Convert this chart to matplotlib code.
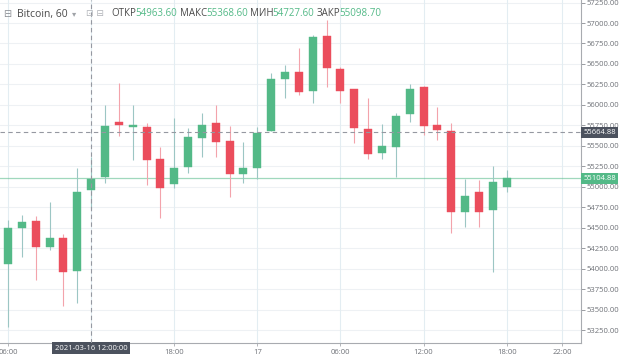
import numpy as np
import pandas as pd
import matplotlib
matplotlib.use("Agg")
import matplotlib.pyplot as plt
import matplotlib.dates as mdates

plt.rcParams["font.family"] = ["Open Sans", "DejaVu Sans"]

# hourly candles, BTC 60 min, from 2021-03-16 06:00
times = pd.date_range("2021-03-16 06:00", periods=37, freq="h")
open_ = [54057, 54497, 54582, 54265, 54375, 53972, 54963.6, 55120, 55791, 55730,
         55730, 55339, 55034, 55242, 55596, 55779, 55559, 55156, 55230, 55681,
         56316, 56402, 56170, 56841, 56438, 56194, 55706, 55413, 55486, 55889,
         56219, 55755, 55681, 54692, 54937, 54717, 54998]
high = [54595, 54656, 54644, 54814, 54424, 55230, 55368.6, 55999, 56267, 55999,
        55779, 55486, 55840, 55718, 55901, 55999, 55742, 55547, 55730, 56389,
        56487, 56695, 56853, 57037, 56463, 56194, 56084, 55767, 55901, 56255,
        56230, 55974, 55779, 55095, 55083, 55254, 55205]
low = [53288, 54143, 53862, 54228, 53545, 53581, 54727.6, 55046, 55620, 55327,
       55022, 54619, 54985, 55169, 55364, 55364, 54875, 55046, 55095, 55681,
       56084, 56121, 56023, 56219, 56023, 55535, 55339, 55339, 55120, 55791,
       55632, 55571, 54436, 54509, 54509, 53960, 54937]
close = [54497, 54570, 54265, 54375, 53960, 54937, 55098.7, 55742, 55755, 55755,
         55327, 54985, 55230, 55608, 55755, 55547, 55156, 55230, 55657, 56316,
         56402, 56157, 56829, 56451, 56170, 55718, 55400, 55498, 55864, 56194,
         55742, 55694, 54692, 54888, 54692, 55058, 55104.88]

tick_times = ["2021-03-16 06:00", "2021-03-16 12:00", "2021-03-16 18:00", "2021-03-17 00:00",
              "2021-03-17 06:00", "2021-03-17 12:00", "2021-03-17 18:00", "2021-03-17 22:00"]
tick_labels = ["06:00", "", "18:00", "17", "06:00", "12:00", "18:00", "22:00"]

cross_time = "2021-03-16 12:00"
cross_label = "2021-03-16 12:00:00"
cross_price = 55664.88
last_price = 55104.88

header = [("ОТКР", "54963.60"), ("МАКС", "55368.60"), ("МИН", "54727.60"), ("ЗАКР", "55098.70")]

GREEN = "#53b987"
RED = "#eb4d5c"

fig = plt.figure(figsize=(6.2, 3.57), dpi=100)
ax = fig.add_axes([0.0, 14 / 357, 581 / 620, 343 / 357])

x = mdates.date2num(times)
o = np.array(open_)
c = np.array(close)
up = c >= o
colors = np.where(up, GREEN, RED)
wick_colors = np.where(up, "#9cc6c4", "#f3a3ab")
hour = 1 / 24

ax.vlines(x, low, high, colors=wick_colors, lw=0.8, zorder=2)
body_h = np.maximum(np.abs(c - o), 18)
ax.bar(x, body_h, bottom=np.minimum(o, c), width=0.58 * hour, color=colors,
       edgecolor=colors, linewidth=0.3, zorder=3)

# limits
x0 = x[0]
ax.set_xlim(x0 - 0.58 * hour, x0 + 41.37 * hour)
ax.set_ylim(53093, 57281)

# grid
yt = np.arange(53250, 57251, 250)
for v in yt:
    ax.axhline(v, color="#eef1f4", lw=0.8, zorder=0)
tx = mdates.date2num(pd.to_datetime(tick_times))
for v in tx:
    ax.axvline(v, color="#e3edf2", lw=0.8, zorder=0)

# last price line and crosshair
ax.axhline(last_price, color=GREEN, lw=0.9, alpha=0.55, zorder=1)
cx = mdates.date2num(pd.Timestamp(cross_time))
ax.axvline(cx, color="#9598a1", lw=0.8, ls=(0, (4, 3)), zorder=4)
ax.axhline(cross_price, color="#9598a1", lw=0.8, ls=(0, (4, 3)), zorder=4)

# axes styling
for s in ["top", "left"]:
    ax.spines[s].set_visible(False)
ax.spines["right"].set_color("#a8abb0")
ax.spines["bottom"].set_color("#a8abb0")
ax.yaxis.tick_right()
ax.set_yticks(yt)
ax.set_yticklabels([f"{v:.2f}" for v in yt])
ax.tick_params(axis="y", labelsize=5.5, colors="#8a8d93", length=3, width=0.6, pad=1)
ax.tick_params(axis="y", labelcolor="#6f7278")
ax.set_xticks(tx)
ax.set_xticklabels(tick_labels)
ax.tick_params(axis="x", labelsize=5.5, labelcolor="#6f7278", colors="#a8abb0",
               length=2, width=0.6, pad=2)

# price boxes on right scale
ax.annotate(f"{cross_price:.2f}", xy=(1.004, cross_price), xycoords=("axes fraction", "data"),
            ha="left", va="center", fontsize=5.5, color="white", annotation_clip=False,
            bbox=dict(boxstyle="square,pad=0.25", fc="#4c525e", ec="none"))
ax.annotate(f"{last_price:.2f}", xy=(1.004, last_price), xycoords=("axes fraction", "data"),
            ha="left", va="center", fontsize=5.5, color="white", annotation_clip=False,
            bbox=dict(boxstyle="square,pad=0.25", fc=GREEN, ec="none"))
ax.annotate(cross_label, xy=(cx, -0.005), xycoords=("data", "axes fraction"),
            ha="center", va="top", fontsize=5.5, color="white", annotation_clip=False,
            bbox=dict(boxstyle="square,pad=0.35", fc="#4c525e", ec="none"))

# header legend
fig.text(3 / 620, 1 - 14 / 357, "⊟", fontsize=7, color="#8a8d93", va="center",
         family=["DejaVu Sans"])
fig.text(17 / 620, 1 - 14 / 357, "Bitcoin, 60", fontsize=7.5, color="#4a4a4a", va="center")
fig.text(72 / 620, 1 - 14 / 357, "▾", fontsize=6, color="#a0a3a8", va="center",
         family=["DejaVu Sans"])
fig.text(86 / 620, 1 - 14 / 357, "⊡ ⊟", fontsize=6.5, color="#b0b3b8", va="center",
         family=["DejaVu Sans"])
label_x = [111, 180, 250, 317]
value_x = [135, 206, 272, 339]
for (lab, val), lx, vx in zip(header, label_x, value_x):
    fig.text(lx / 620, 1 - 14 / 357, lab, fontsize=7, color="#4a4a4a", va="center")
    fig.text(vx / 620, 1 - 14 / 357, val, fontsize=7, color=GREEN, va="center")

fig.savefig("out.png", dpi=100)
